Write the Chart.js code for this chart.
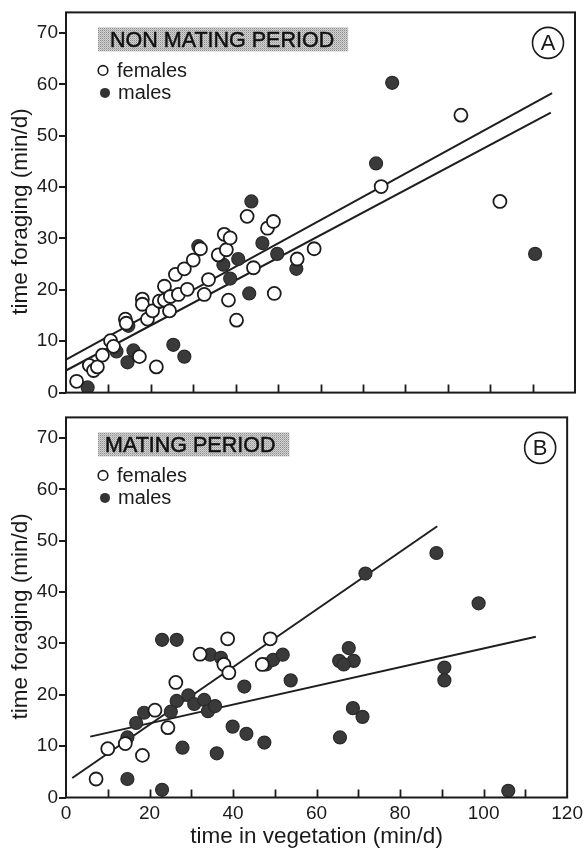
<!DOCTYPE html>
<html>
<head>
<meta charset="utf-8">
<script src="https://cdn.jsdelivr.net/npm/chart.js@4.4.0/dist/chart.umd.min.js"></script>
<style>
html,body{margin:0;padding:0;background:#fff;}
#wrap{position:relative;width:588px;height:850px;overflow:hidden;}
canvas{position:absolute;left:0;}
#cA{top:0;}
#cB{top:405px;}
</style>
</head>
<body>
<div id="wrap">
<canvas id="cA" width="588" height="405"></canvas>
<canvas id="cB" width="588" height="445"></canvas>
</div>
<script>
// ---------- tick labels ----------
const xTickLabels = [0, 20, 40, 60, 80, 100, 120];
const xMinorTicks = [10, 20, 30, 40, 50, 60, 70, 80, 90, 100, 110];
const yTicks = [0, 10, 20, 30, 40, 50, 60, 70];

// ---------- Panel A: non mating period ----------
const nonMatingFemalesX = [2.5, 5.5, 6.5, 7.4, 8.6, 10.5, 11.2, 14.0, 14.2, 17.3, 18.0, 18.0, 19.2, 20.4, 21.3, 22.0, 23.2, 23.2, 24.4, 24.6, 25.8, 26.5, 27.9, 28.6, 30.0, 31.7, 32.6, 33.6, 35.9, 37.3, 37.8, 38.7, 38.3, 40.2, 42.7, 44.2, 47.5, 48.9, 49.1, 54.5, 58.5, 74.3, 93.1, 102.3];
const nonMatingFemalesY = [2.2, 5.3, 4.3, 5.0, 7.3, 10.1, 9.0, 14.3, 13.5, 7.0, 18.2, 17.2, 14.3, 15.9, 5.0, 17.8, 20.7, 18.0, 15.9, 18.7, 23.0, 19.1, 24.1, 20.1, 25.8, 28.0, 19.1, 22.0, 26.8, 30.8, 27.8, 30.1, 18.0, 14.1, 34.3, 24.3, 32.0, 33.3, 19.3, 26.0, 28.0, 40.1, 54.0, 37.2];
const nonMatingMalesX = [5.1, 11.9, 14.5, 14.7, 15.9, 25.3, 27.9, 31.2, 37.1, 38.7, 40.6, 43.7, 43.2, 46.3, 49.8, 54.3, 73.1, 76.9, 110.6];
const nonMatingMalesY = [1.0, 8.0, 5.9, 13.0, 8.2, 9.3, 7.0, 28.5, 24.9, 22.2, 26.0, 37.2, 19.3, 29.1, 27.0, 24.1, 44.6, 60.3, 27.0];
// regression line end points [x, y]
const nonMatingLineUpper = [[0, 6.4], [114.6, 58.3]];
const nonMatingLineLower = [[0, 4.3], [114.3, 54.5]];

// ---------- Panel B: mating period ----------
const matingFemalesX = [7.2, 10.0, 14.2, 18.3, 21.3, 24.4, 26.3, 32.1, 38.7, 37.8, 39.0, 48.9, 47.0];
const matingFemalesY = [3.6, 9.5, 10.5, 8.2, 17.0, 13.6, 22.4, 27.9, 30.9, 25.9, 24.3, 30.9, 25.9];
const matingMalesX = [14.7, 14.7, 16.8, 18.7, 23.0, 23.0, 26.5, 25.1, 26.5, 27.9, 29.3, 30.7, 33.1, 34.0, 35.7, 34.5, 37.1, 36.1, 39.9, 42.7, 43.2, 47.5, 47.9, 49.6, 51.9, 53.8, 65.4, 67.7, 68.9, 66.5, 68.7, 71.0, 65.6, 71.7, 88.7, 98.8, 90.6, 90.6, 105.9];
const matingMalesY = [3.6, 11.7, 14.5, 16.5, 1.5, 30.7, 30.7, 16.7, 18.8, 9.7, 19.9, 18.2, 19.0, 16.8, 17.8, 27.8, 27.2, 8.6, 13.8, 21.6, 12.4, 10.7, 25.9, 26.8, 27.8, 22.8, 26.6, 29.1, 26.6, 25.9, 17.4, 15.7, 11.7, 43.6, 47.6, 37.8, 25.3, 22.8, 1.3];
const matingLineSteep = [[1.5, 3.8], [88.9, 52.8]];
const matingLineFlat = [[5.8, 11.85], [112.5, 31.3]];

// ---------- texts ----------
const yTitle = 'time foraging (min/d)';
const xTitle = 'time in vegetation (min/d)';
const legendFemales = 'females';
const legendMales = 'males';

const FONT = "'Liberation Sans', Arial, Helvetica, sans-serif";
const INK = '#1a1a1a';
Chart.defaults.font.family = FONT;
Chart.defaults.color = INK;

function pts(xs, ys) { return xs.map((x, i) => ({ x: x, y: ys[i] })); }
function linePts(arr) { return arr.map(p => ({ x: p[0], y: p[1] })); }

function stipple(ctx) {
  const c = document.createElement('canvas');
  c.width = 2; c.height = 2;
  const g = c.getContext('2d');
  g.fillStyle = '#d2d2d2'; g.fillRect(0, 0, 2, 2);
  g.fillStyle = '#8c8c8c'; g.fillRect(0, 0, 1, 1);
  g.fillStyle = '#b4b4b4'; g.fillRect(1, 1, 1, 1);
  return ctx.createPattern(c, 'repeat');
}

function decorPlugin(p) {
  return {
    id: 'decor' + p.letter,
    afterDraw(chart) {
      const ctx = chart.ctx, a = chart.chartArea;
      ctx.save();
      // frame
      ctx.strokeStyle = INK; ctx.lineWidth = 2;
      ctx.strokeRect(a.left, a.top, a.right - a.left, a.bottom - a.top);
      // inward x ticks
      const xs = chart.scales.x;
      ctx.beginPath();
      xMinorTicks.forEach(v => {
        const px = Math.round(xs.getPixelForValue(v)) + 0.5;
        ctx.moveTo(px, a.bottom); ctx.lineTo(px, a.bottom - 8);
      });
      ctx.lineWidth = 1.8; ctx.stroke();
      // y axis title (rotated)
      ctx.save();
      ctx.translate(21, (a.top + a.bottom) / 2 + 9);
      ctx.rotate(-Math.PI / 2);
      ctx.font = '22.5px ' + FONT; ctx.fillStyle = INK;
      ctx.textAlign = 'center'; ctx.textBaseline = 'middle';
      ctx.fillText(yTitle, 0, 0);
      ctx.restore();
      // title box
      ctx.font = '21.5px ' + FONT;
      const tw = ctx.measureText(p.title).width;
      const bx = a.left + 32, by = a.top + 15, bh = 24;
      ctx.fillStyle = stipple(ctx);
      ctx.fillRect(bx, by, tw + p.boxPadL + 14, bh);
      ctx.fillStyle = '#111';
      ctx.strokeStyle = '#111'; ctx.lineWidth = 0.5;
      ctx.textBaseline = 'alphabetic'; ctx.textAlign = 'left';
      ctx.fillText(p.title, bx + p.boxPadL, by + 20);
      ctx.strokeText(p.title, bx + p.boxPadL, by + 20);
      // legend
      const lx = a.left + 38;
      const fy = a.top + 58, my = a.top + 80.5;
      ctx.lineWidth = 1.6; ctx.strokeStyle = INK; ctx.fillStyle = '#fff';
      ctx.beginPath(); ctx.arc(lx - 1, fy, 4.8, 0, Math.PI * 2); ctx.fill(); ctx.stroke();
      ctx.fillStyle = '#333';
      ctx.beginPath(); ctx.arc(lx + 1, my, 5, 0, Math.PI * 2); ctx.fill();
      ctx.fillStyle = INK;
      ctx.font = '20px ' + FONT;
      ctx.fillText(legendFemales, a.left + 51, fy + 6.5);
      ctx.fillText(legendMales, a.left + 52, my + 6.5);
      // circled letter
      const cx = a.right - 27, cy = a.top + 30.5;
      ctx.lineWidth = 1.6; ctx.strokeStyle = INK;
      ctx.beginPath(); ctx.arc(cx, cy, 15.5, 0, Math.PI * 2); ctx.stroke();
      ctx.font = '22px ' + FONT; ctx.textAlign = 'center'; ctx.textBaseline = 'middle';
      ctx.fillText(p.letter, cx, cy + 1);
      ctx.restore();
    }
  };
}

function panelConfig(p) {
  return {
    type: 'scatter',
    data: {
      datasets: [
        { label: legendFemales, data: pts(p.fx, p.fy), pointRadius: 6.5, pointBorderWidth: 1.8,
          pointBackgroundColor: '#ffffff', pointBorderColor: '#1c1c1c', order: 0 },
        { label: legendMales, data: pts(p.mx, p.my), pointRadius: 6.5, pointBorderWidth: 1.2,
          pointBackgroundColor: '#3a3a3a', pointBorderColor: '#2a2a2a', order: 1 },
        { type: 'line', data: linePts(p.l1), borderColor: '#1e1e1e', borderWidth: 2, pointRadius: 0, fill: false, tension: 0, order: 2 },
        { type: 'line', data: linePts(p.l2), borderColor: '#1e1e1e', borderWidth: 2, pointRadius: 0, fill: false, tension: 0, order: 2 }
      ]
    },
    options: {
      responsive: false, animation: false, devicePixelRatio: 1,
      layout: { padding: { top: p.padTop, right: 13, left: 0, bottom: 0 } },
      plugins: { legend: { display: false }, tooltip: { enabled: false } },
      scales: {
        x: {
          type: 'linear', min: 0, max: 120,
          afterFit: s => { s.height = p.xH; },
          afterBuildTicks: s => { s.ticks = xTickLabels.map(v => ({ value: v })); },
          grid: { display: true, drawOnChartArea: false, drawTicks: false, tickLength: 0 }, border: { display: false },
          ticks: { display: p.showX, font: { size: 19 }, color: INK, padding: 5, maxRotation: 0, autoSkip: false },
          title: { display: p.showX, text: xTitle, font: { size: 22.5 }, color: INK, padding: { top: 0, bottom: 0 } }
        },
        y: {
          type: 'linear', min: 0, max: 74,
          afterFit: s => { s.width = 66; },
          afterBuildTicks: s => { s.ticks = yTicks.map(v => ({ value: v })); },
          grid: { drawOnChartArea: false, drawTicks: true, tickLength: 7, color: INK, lineWidth: 2 },
          border: { display: false },
          ticks: { font: { size: 19 }, color: INK, padding: 1 },
          title: { display: false }
        }
      }
    },
    plugins: [decorPlugin(p)]
  };
}

new Chart(document.getElementById('cA'), panelConfig({
  fx: nonMatingFemalesX, fy: nonMatingFemalesY, mx: nonMatingMalesX, my: nonMatingMalesY,
  l1: nonMatingLineUpper, l2: nonMatingLineLower,
  padTop: 12, xH: 7.5, showX: false, title: 'NON MATING PERIOD', letter: 'A', boxPadL: 12
}));
new Chart(document.getElementById('cB'), panelConfig({
  fx: matingFemalesX, fy: matingFemalesY, mx: matingMalesX, my: matingMalesY,
  l1: matingLineSteep, l2: matingLineFlat,
  padTop: 8, xH: 52.5, showX: true, title: 'MATING PERIOD', letter: 'B', boxPadL: 7
}));
</script>
</body>
</html>
